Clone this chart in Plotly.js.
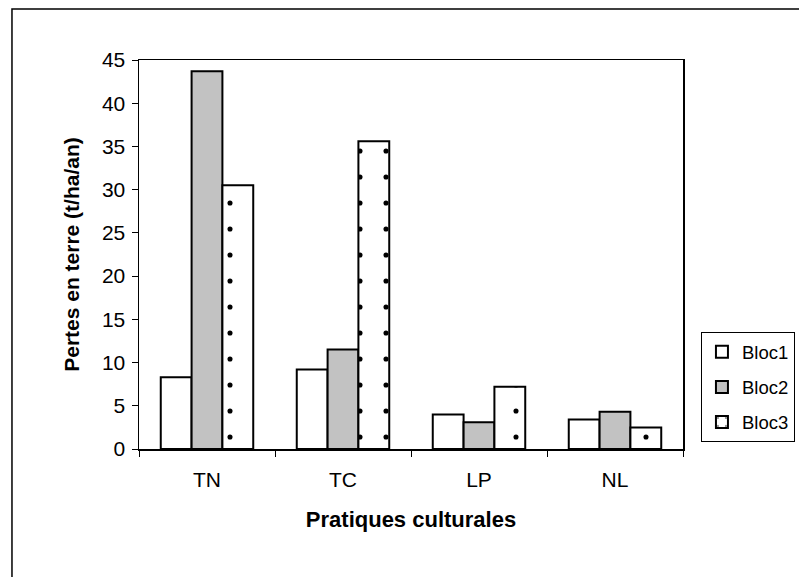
<!DOCTYPE html>
<html>
<head>
<meta charset="utf-8">
<script src="https://cdn.plot.ly/plotly-3.0.1.min.js"></script>
<style>html,body{margin:0;padding:0;background:#fff;}#chart{width:799px;height:577px;}</style>
</head>
<body>
<div id="chart"></div>
<script>
var categories = ["TN", "TC", "LP", "NL"];
var bloc1 = [8.3, 9.2, 4.0, 3.4];
var bloc2 = [43.7, 11.5, 3.1, 4.3];
var bloc3 = [30.5, 35.6, 7.2, 2.5];
var seriesNames = ["Bloc1", "Bloc2", "Bloc3"];
var yTickVals = [0, 5, 10, 15, 20, 25, 30, 35, 40, 45];

var FONT = "Arial, 'Liberation Sans', sans-serif";
var line = {color: "#000", width: 2};

var traces = [
  {type: "bar", name: seriesNames[0], legendgroup: "g1", x: categories, y: bloc1,
   marker: {color: "#fff", line: line}},
  {type: "bar", name: seriesNames[1], legendgroup: "g2", x: categories, y: bloc2,
   marker: {color: "#d0d0d0", line: line,
            pattern: {shape: ".", fgcolor: "#9a9a9a", bgcolor: "#e2e2e2", size: 2, solidity: 0.5}}},
  {type: "bar", name: seriesNames[2], legendgroup: "g3", x: categories, y: bloc3,
   marker: {color: "#fff", line: line,
            pattern: {shape: ".", fgcolor: "#000", bgcolor: "#fff", size: 26, solidity: 0.03}}}
];

var layout = {
  width: 799, height: 577,
  margin: {l: 139, r: 116, t: 60, b: 128, autoexpand: false},
  paper_bgcolor: "#fff", plot_bgcolor: "#fff",
  font: {family: FONT, size: 20, color: "#000"},
  barmode: "group", bargap: 0.32, bargroupgap: 0,
  showlegend: true,
  xaxis: {
    type: "category", showline: true, linecolor: "#000", linewidth: 1.5, mirror: true,
    ticks: "outside", tickson: "boundaries", ticklen: 6, tickcolor: "#000", tickwidth: 1,
    showgrid: false, zeroline: false, ticklabelstandoff: 11,
    tickfont: {family: FONT, size: 21, color: "#000"},
    title: {text: "Pratiques culturales", font: {family: FONT, size: 22, color: "#000", weight: "bold"}, standoff: 22}
  },
  yaxis: {
    range: [0, 45], tickvals: yTickVals, showline: true, linecolor: "#000", linewidth: 1.5, mirror: true,
    ticks: "outside", ticklen: 6, tickcolor: "#000", tickwidth: 1,
    showgrid: false, zeroline: false, ticklabelstandoff: 2,
    tickfont: {family: FONT, size: 21, color: "#000"},
    title: {text: "Pertes en terre (t/ha/an)", font: {family: FONT, size: 21, color: "#000", weight: "bold"}, standoff: 16}
  },
  xaxis2: {overlaying: "x", anchor: "y", range: [0, 4], dtick: 1, tick0: 0, ticks: "inside", ticklen: 6,
           tickcolor: "#000", showticklabels: false, showgrid: false, zeroline: false, showline: false},
  yaxis2: {overlaying: "y", anchor: "x", side: "left", range: [0, 45], tickvals: yTickVals, ticks: "inside", ticklen: 6,
           tickcolor: "#000", showticklabels: false, showgrid: false, zeroline: false, showline: false},
  legend: {
    x: 1.033, y: 0.30, xanchor: "left", yanchor: "top",
    bordercolor: "#000", borderwidth: 1, bgcolor: "#fff",
    font: {family: FONT, size: 18.5, color: "#000"},
    tracegroupgap: 8, itemwidth: 30
  },
  shapes: [
    {type: "rect", xref: "paper", yref: "paper", x0: -0.2335, x1: 2, y0: -2, y1: 1.131,
     line: {color: "#000", width: 1.5}, fillcolor: "rgba(0,0,0,0)", layer: "below"}
  ]
};

Plotly.newPlot("chart", traces, layout, {displayModeBar: false, staticPlot: true});
</script>
</body>
</html>
